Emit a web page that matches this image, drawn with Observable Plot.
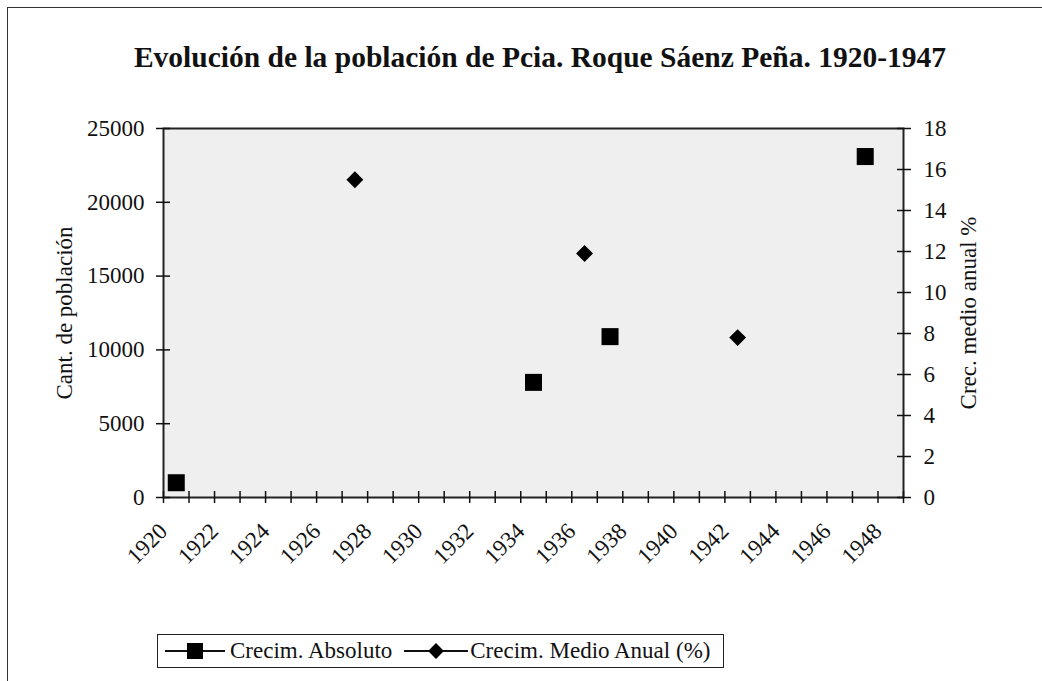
<!DOCTYPE html>
<html><head><meta charset="utf-8">
<script src="https://cdn.jsdelivr.net/npm/d3@7"></script>
<script src="https://cdn.jsdelivr.net/npm/@observablehq/plot@0.6"></script>
<style>
body{margin:0;background:#fff;font-family:"Liberation Serif","Times New Roman",serif;color:#111;}
#wrap{position:relative;width:1042px;height:681px;overflow:hidden;}
#border{position:absolute;left:7px;top:7px;width:1100px;height:1000px;border-left:1.5px solid #333;border-top:1.5px solid #333;}
#title{position:absolute;top:41px;left:0;width:1080px;text-align:center;font-weight:bold;font-size:29.5px;}
#chart{position:absolute;left:0;top:0;}
#legend{position:absolute;left:157px;top:634px;width:558px;height:32px;border:1.5px solid #222;display:flex;align-items:center;font-size:23px;padding:0 0 0 7px;background:#fff;box-sizing:content-box;}
#legend span{white-space:nowrap;}
#legend svg{display:block;flex:none;}
</style></head><body>
<div id="wrap">
  <div id="border"></div>
  <div id="title">Evolución de la población de Pcia. Roque Sáenz Peña. 1920-1947</div>
  <div id="chart"></div>
  <div id="legend"></div>
</div>
<script>
// Data
const seriesNames = ["Crecim. Absoluto", "Crecim. Medio Anual (%)"];
const absYears = [1920.5, 1934.5, 1937.5, 1947.5];
const absValues = [1000, 7800, 10900, 23100];
const pctYears = [1927.5, 1936.5, 1942.5];
const pctValues = [15.5, 11.9, 7.8];
const leftTicks = [0, 5000, 10000, 15000, 20000, 25000];
const rightTicks = [0, 2, 4, 6, 8, 10, 12, 14, 16, 18];
const yearLabels = [1920,1922,1924,1926,1928,1930,1932,1934,1936,1938,1940,1942,1944,1946,1948];
const yearTicks = d3.range(1920, 1950);
const leftMax = 25000, rightMax = 18;

const K = leftMax / rightMax;
const absData = absYears.map((x, i) => ({x, v: absValues[i]}));
const pctData = pctYears.map((x, i) => ({x, v: pctValues[i]}));

const chart = Plot.plot({
  width: 1042, height: 600,
  marginLeft: 163, marginRight: 139, marginTop: 128, marginBottom: 103,
  style: {fontFamily: '"Liberation Serif", serif', fontSize: "23px", background: "transparent", color: "#111", overflow: "visible"},
  x: {domain: [1920, 1949]},
  y: {domain: [0, leftMax]},
  marks: [
    Plot.frame({fill: "#efefef", stroke: "#222", strokeWidth: 2}),
    // x ticks crossing the axis
    Plot.axisX({ticks: yearTicks, tickSize: 12, dy: -6, tickFormat: () => "", label: null, strokeWidth: 1.5}),
    Plot.axisX({ticks: yearLabels, tickSize: 0, tickRotate: -45, tickPadding: 30, tickFormat: d => String(d), label: null}),
    // left axis
    Plot.axisY({ticks: leftTicks, tickSize: 14, dx: 7, tickFormat: () => "", label: null, strokeWidth: 1.5}),
    Plot.axisY({ticks: leftTicks, tickSize: 0, tickPadding: 19, tickFormat: d => String(d),
      label: "Cant. de población", labelAnchor: "center", labelOffset: 108, labelArrow: "none"}),
    // right axis (mapped onto the left scale)
    Plot.axisY({anchor: "right", ticks: rightTicks.map(d => d * K), tickSize: 14, dx: -7, tickFormat: () => "", label: null, strokeWidth: 1.5}),
    Plot.axisY({anchor: "right", ticks: rightTicks.map(d => d * K), tickSize: 0, tickPadding: 20,
      tickFormat: d => String(Math.round(d / K)),
      label: "Crec. medio anual %", labelAnchor: "center", labelOffset: 72, labelArrow: "none"}),
    Plot.dot(absData, {x: "x", y: "v", symbol: "square", r: 9.6, fill: "#000", stroke: "none"}),
    Plot.dot(pctData, {x: "x", y: d => d.v * K, symbol: "diamond2", r: 7.6, fill: "#000", stroke: "none"})
  ]
});
document.getElementById("chart").appendChild(chart);

// Legend
const legend = document.getElementById("legend");
const sym = (type, w) => {
  const s = d3.create("svg").attr("width", w).attr("height", 20);
  s.append("line").attr("x1", 0).attr("x2", w).attr("y1", 10).attr("y2", 10).attr("stroke", "#111").attr("stroke-width", 2);
  if (type === "square") s.append("rect").attr("x", w / 2 - 8).attr("y", 2).attr("width", 16).attr("height", 16).attr("fill", "#000");
  else s.append("path").attr("d", d3.symbol(d3.symbolDiamond2, 160)()).attr("transform", `translate(${w / 2},10)`).attr("fill", "#000");
  return s.node();
};
const gaps = [[60, 5, 12], [64, 2, 0]];
["square", "diamond"].forEach((t, i) => {
  const svg = sym(t, gaps[i][0]);
  legend.appendChild(svg);
  const sp = document.createElement("span");
  sp.textContent = seriesNames[i];
  sp.style.marginLeft = gaps[i][1] + "px";
  sp.style.marginRight = gaps[i][2] + "px";
  legend.appendChild(sp);
});
</script>
</body></html>
